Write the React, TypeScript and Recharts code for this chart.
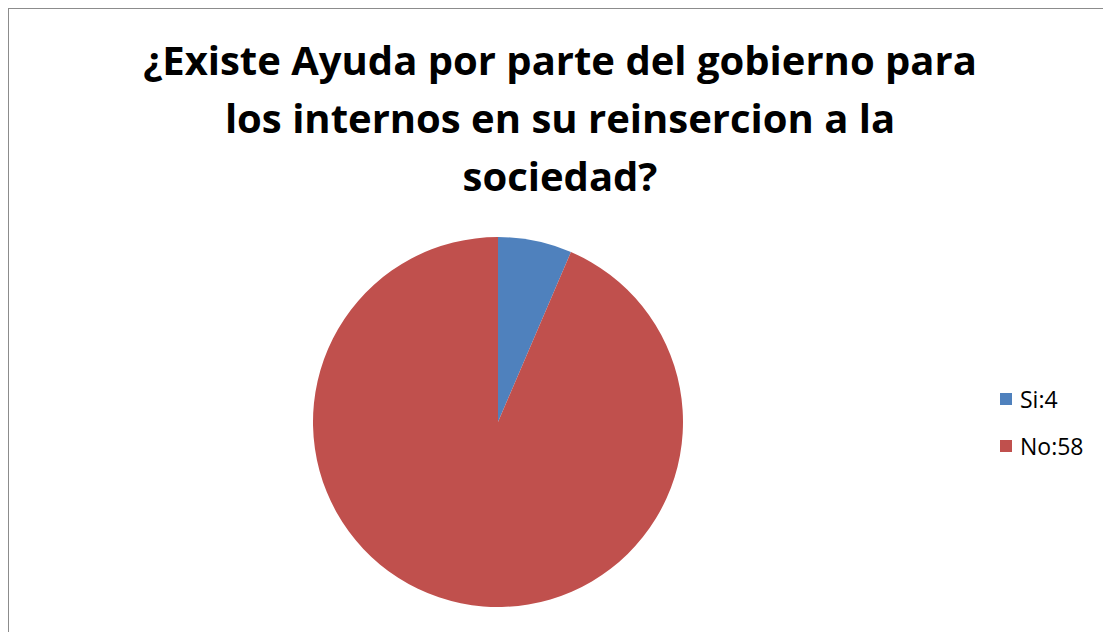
import { PieChart, Pie, Cell, Legend } from 'recharts';

const categories = ['Si', 'No'];
const counts = [4, 58];
const colors = ['#4f81bd', '#c0504d'];

const titleLines = [
  '¿Existe Ayuda por parte del gobierno para',
  'los internos en su reinsercion a la',
  'sociedad?',
];

const data = categories.map((name, i) => ({ name, value: counts[i] }));

// legend drawn in the series order (Recharts would sort it by name)
function LegendBox() {
  return (
    <div>
      {data.map((d, i) => (
        <div
          key={d.name}
          style={{ display: 'flex', alignItems: 'center', height: 47 }}
        >
          <span
            style={{
              width: 12,
              height: 12,
              background: colors[i],
              display: 'inline-block',
              marginRight: 8,
            }}
          />
          <span style={{ fontSize: 23, color: '#000' }}>
            {d.name}:{d.value}
          </span>
        </div>
      ))}
    </div>
  );
}

export default function App() {
  return (
    <div
      style={{
        position: 'relative',
        width: 1120,
        height: 640,
        border: '1px solid #8c8c8c',
        fontFamily: '"Open Sans", sans-serif',
        background: '#fff',
      }}
    >
      <div
        style={{
          position: 'absolute',
          left: 0,
          top: 22,
          width: 1102,
          textAlign: 'center',
          fontWeight: 700,
          fontSize: 40,
          lineHeight: '58px',
          color: '#000',
        }}
      >
        {titleLines.map((t, i) => (
          <div key={i}>{t}</div>
        ))}
      </div>
      <PieChart
        width={1100}
        height={620}
        margin={{ top: 0, right: 0, bottom: 0, left: 0 }}
      >
        <Pie
          data={data}
          dataKey="value"
          nameKey="name"
          cx={489}
          cy={413}
          outerRadius={185}
          startAngle={90}
          endAngle={-270}
          stroke="none"
          isAnimationActive={false}
        >
          {data.map((d, i) => (
            <Cell key={d.name} fill={colors[i]} />
          ))}
        </Pie>
        <Legend
          layout="vertical"
          content={<LegendBox />}
          wrapperStyle={{ left: 991, top: 366, width: 110 }}
        />
      </PieChart>
    </div>
  );
}
